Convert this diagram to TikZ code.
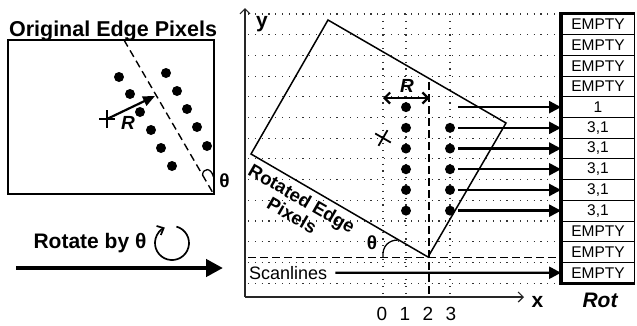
\documentclass[tikz,border=0pt]{standalone}
\usepackage{fontspec}
\setmainfont{Liberation Sans}
\usetikzlibrary{arrows.meta}
\begin{document}
\begin{tikzpicture}[x=1pt,y=-1pt,
  txt/.style={inner sep=0pt, font=\fontsize{#1}{#1}\selectfont},
  btxt/.style={inner sep=0pt, font=\fontsize{#1}{#1}\selectfont\bfseries},
  bitxt/.style={inner sep=0pt, font=\fontsize{#1}{#1}\selectfont\bfseries\itshape},
  pix/.style={circle, fill=black, inner sep=0pt, minimum size=10pt},
  dotgrid/.style={line width=1.1pt, dash pattern=on 1.1pt off 5.7pt, black!80},
  dashln/.style={line width=1.4pt, dash pattern=on 7.5pt off 4.5pt},
  cell/.style={draw, line width=0.9pt, minimum width=73pt, minimum height=20.7pt, inner sep=0pt, font=\fontsize{15.5}{15.5}\selectfont},
  tabarrow/.style={line width=2.4pt, -{Triangle[length=12pt,width=12pt]}},
]
\useasboundingbox (0,0) rectangle (637,325);

% ---------- left panel ----------
\node[btxt=21.5, anchor=base] (title) at (113,36) {Original Edge Pixels};
\node[draw, line width=1.6pt, minimum width=206pt, minimum height=154pt, inner sep=0pt] (obox) at (111,117) {};
\coordinate (od1) at (124,40);
\coordinate (od2) at (213,193);
\draw[dashln] (od1) -- (od2);
\foreach \x/\y [count=\n] in {119/77,130/94,140/112,151/130,161/148,172/166,166/73,177/91,187/109,197/127,207/146}
  \node[pix] (l\n) at (\x,\y) {};
\coordinate (oc) at (107,119);
\draw[line width=1.8pt] (99,119) -- (115,119) (107,110) -- (107,128);
\coordinate (rt) at (155,96);
\draw[line width=2.2pt, -{Triangle[length=12pt,width=10pt]}] (oc) -- (rt);
\node[bitxt=19] (oR) at (128,123) {R};
\draw[line width=1.3pt] (202.5,175) .. controls (203,168) and (211,167) .. (213.5,177);
\node[btxt=19] (oth) at (224.5,181) {θ};

% ---------- rotate arrow ----------
\node[btxt=21, anchor=base] (rot) at (90,248) {Rotate by θ};
\draw[line width=1.7pt, -{Straight Barb[length=5.5pt,width=10pt]}] (176.4,226.6) arc[start angle=75, end angle=-245, radius=17pt];
\coordinate (ba1) at (16,268);
\coordinate (ba2) at (223,268);
\draw[line width=4.3pt, -{Triangle[length=17pt,width=17pt]}] (ba1) -- (ba2);

% ---------- right panel ----------
\foreach \k in {0,...,13}
  \draw[dotgrid] (248,{14+20.7*\k}) -- (559,{14+20.7*\k});
\foreach \x in {383,406,450}
  \draw[dotgrid] (\x,14) -- (\x,296);

% axes
\coordinate (org) at (245,297);
\coordinate (ytop) at (245,8);
\coordinate (xend) at (524,297);
\draw[line width=1.2pt, black!85, -{Straight Barb[length=5pt,width=10pt]}] (org) -- (ytop);
\draw[line width=1.2pt, black!85, -{Straight Barb[length=5pt,width=10pt]}] (org) -- (xend);
\node[btxt=21, anchor=base] (ylab) at (262,27) {y};
\node[btxt=21, anchor=base] (xlab) at (537.5,307) {x};
\foreach \x/\t in {382/0,405/1,428/2,451/3}
  \node[txt=19, anchor=base] (n\t) at (\x,320) {\t};

% dashed guides
\coordinate (dv1) at (429,82);
\coordinate (dv2) at (429,297);
\draw[dashln] (dv1) -- (dv2);
\coordinate (dh1) at (248,257.5);
\coordinate (dh2) at (559,257.5);
\draw[dashln] (dh1) -- (dh2);

% table
\foreach \t [count=\i from 0] in {EMPTY,EMPTY,EMPTY,EMPTY,1,{3,1},{3,1},{3,1},{3,1},{3,1},EMPTY,EMPTY,EMPTY}
  \node[cell] (cell\i) at (598,{24.35+20.7*\i}) {\t};
\draw[line width=4pt] (cell0.north west) -- (cell12.south west);
\draw[line width=2.6pt] ([xshift=-2pt]cell0.north west) -- (cell0.north east);
\draw[line width=2.6pt] ([xshift=-2pt]cell12.south west) -- (cell12.south east);
\node[bitxt=21, anchor=base] (rotlab) at (600,307) {Rot};

% rotated pixels
\foreach \r in {4,...,9}
  \node[pix] (a\r) at (406,{24.35+20.7*\r}) {};
\foreach \r in {5,...,9}
  \node[pix] (b\r) at (450,{24.35+20.7*\r}) {};

% rotated rectangle
\coordinate (rq1) at (328,20);
\coordinate (rq2) at (506,123);
\coordinate (rq3) at (428,257);
\coordinate (rq4) at (251,154);
\draw[line width=1.5pt] (rq1) -- (rq2) -- (rq3) -- (rq4) -- cycle;

% rotated centre cross
\draw[line width=1.8pt] (375.2,133.5) -- (390.8,142.5) (387.5,130.2) -- (378.5,145.8);

% R double arrow
\coordinate (ra1) at (383,98);
\coordinate (ra2) at (429.5,98);
\draw[line width=2.2pt, {Straight Barb[length=5.5pt,width=11pt]}-{Straight Barb[length=5.5pt,width=11pt]}] (ra1) -- (ra2);
\node[bitxt=19] (rR) at (407,86) {R};

% theta in rotated view
\draw[line width=1.3pt] (383,257) .. controls (382,246) and (389,240) .. (398,240);
\node[btxt=19] (rth) at (372,243) {θ};

% rotated edge label
\node[btxt=18.5, rotate=-30, align=center] (rel) at (297,207) {Rotated Edge\\[1pt]Pixels};

% scanline arrows
\coordinate (s4) at (458,{24.35+20.7*4});
\draw[tabarrow] (s4) -- (cell4.west);
\foreach \r in {5,...,9}
  \draw[tabarrow, shorten <=3pt] (b\r) -- (cell\r.west);
\node[txt=18, anchor=west] (scan) at (249,272.75) {Scanlines};
\draw[tabarrow, shorten <=8pt] (scan.east) -- (cell12.west);
\end{tikzpicture}
\end{document}
